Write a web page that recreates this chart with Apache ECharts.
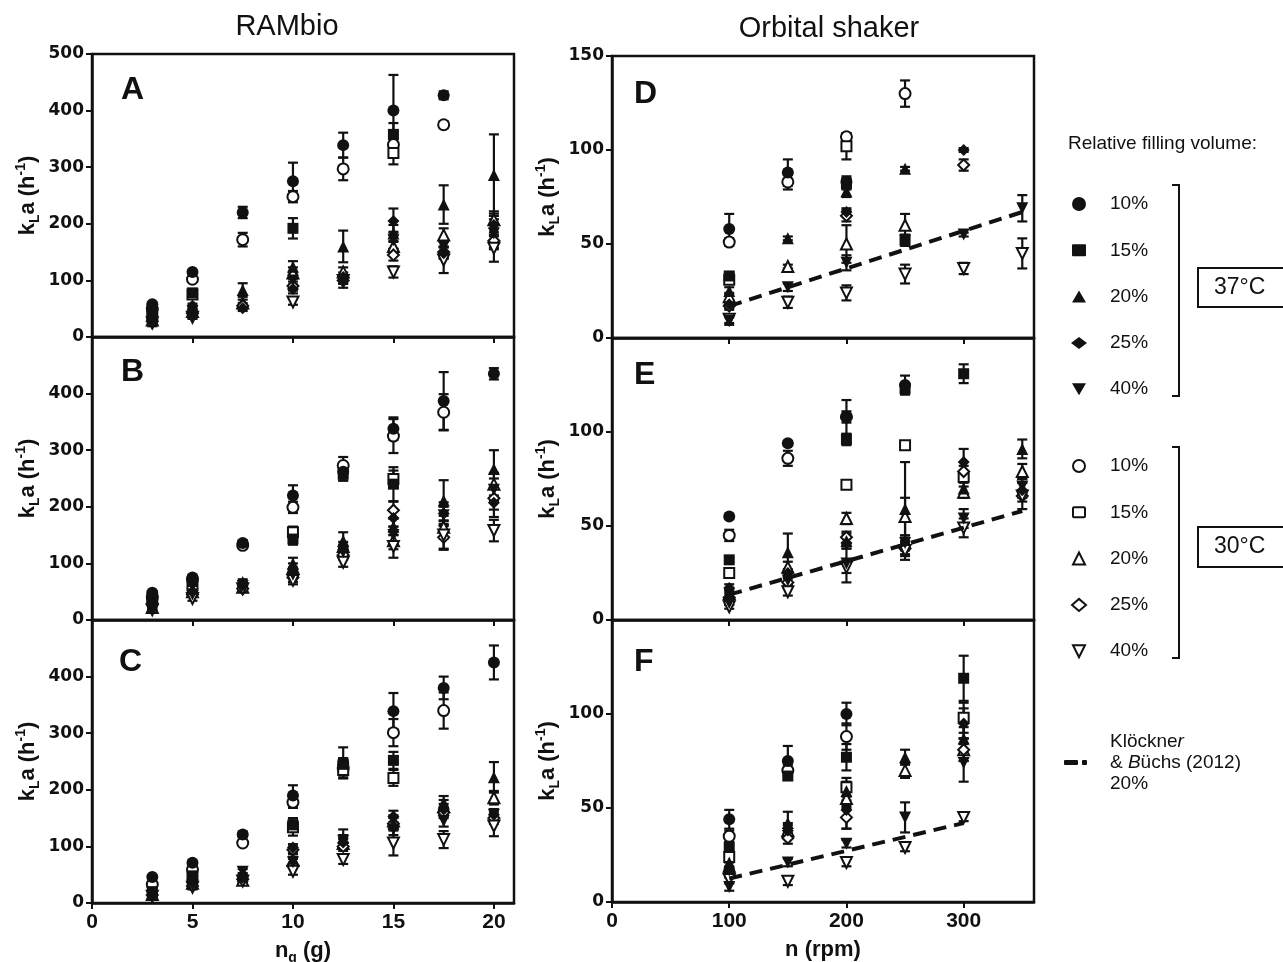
<!DOCTYPE html>
<html>
<head>
<meta charset="utf-8">
<script src="https://cdn.jsdelivr.net/npm/echarts@6/dist/echarts.min.js"></script>
<style>
html, body { margin: 0; background: #fff; }
#chart { width: 1283px; height: 962px; }
</style>
</head>
<body>
<div id="chart"></div>
<script>
// x values
var mass = [3, 5, 7.5, 10, 12.5, 15, 17.5, 20];
var rpm = [100, 150, 200, 250, 300, 350];
var fills = ['10%', '15%', '20%', '25%', '40%'];

// rows: 10%, 15%, 20%, 25%, 40% filling volume; null = no point
// A - RAMbio
var a37 = [
  [58, 115, 220, 275, 339, 400, 427, null],
  [45, 78, null, 192, null, 358, null, null],
  [35, 50, 83, 124, 160, 183, 234, 286],
  [30, 55, 51, 85, 106, 205, 148, 198],
  [22, 38, null, 100, 95, 171, 160, 183]
];
var a37Err = [
  [3, 3, 10, 33, 22, 63, 7, null],
  [3, 5, null, 18, null, 20, null, null],
  [3, 4, 12, 10, 28, 15, 34, 72],
  [3, 4, 5, 8, 8, 22, 10, 20],
  [3, 4, null, 10, 8, 15, 12, 25]
];
var a30 = [
  [50, 102, 172, 248, 297, 340, 375, null],
  [40, 75, null, null, null, 325, null, null],
  [30, 45, 60, 113, 115, 160, 180, 207],
  [28, 42, 55, 90, 100, 145, 150, 170],
  [25, 35, null, 62, 100, 115, 136, 157]
];
var a30Err = [
  [3, 4, 12, 10, 20, 10, 6, null],
  [3, 4, null, null, null, 20, null, null],
  [2, 4, 6, 10, 8, 10, 12, 15],
  [2, 4, 5, 8, 6, 10, 10, 15],
  [2, 3, null, 5, 6, 10, 23, 24]
];

// B
var b37 = [
  [48, 75, 136, 220, 262, 338, 387, 435],
  [42, 68, null, 143, 258, 240, null, null],
  [25, 55, 67, 100, 140, 165, 211, 267],
  [30, 50, 62, 85, 125, 180, 188, 207],
  [20, 45, 60, 80, 120, 150, 185, 230]
];
var b37Err = [
  [3, 4, 5, 18, 15, 20, 51, 10],
  [3, 4, null, 10, 12, 30, null, null],
  [3, 4, 5, 10, 15, 15, 36, 33],
  [3, 4, 5, 8, 8, 15, 20, 25],
  [3, 4, 5, 8, 8, 15, 15, 20]
];
var b30 = [
  [40, 72, 132, 199, 273, 325, 367, null],
  [35, 62, null, 155, null, 249, null, null],
  [22, 50, 58, 92, 130, 140, 164, 240],
  [28, 45, 55, 75, 115, 194, 146, 215],
  [18, 38, 55, 70, 102, 130, 150, 158]
];
var b30Err = [
  [3, 4, 5, 10, 15, 30, 32, null],
  [3, 4, null, 10, null, 15, null, null],
  [3, 4, 5, 8, 8, 15, 20, 20],
  [3, 4, 5, 8, 8, 15, 20, 20],
  [3, 4, 5, 7, 8, 20, 26, 19]
];

// C
var c37 = [
  [46, 71, 121, 190, 248, 339, 380, 425],
  [20, 48, null, 138, 245, 252, null, null],
  [18, 42, 48, 78, 115, 141, 177, 222],
  [15, 38, 45, 98, 107, 153, 165, 156],
  [18, 32, 55, 72, 110, 130, 145, 156]
];
var c37Err = [
  [3, 4, 5, 18, 27, 32, 20, 30],
  [3, 4, null, 12, 10, 15, null, null],
  [3, 4, 5, 8, 15, 10, 12, 27],
  [3, 4, 5, 6, 8, 10, 10, 10],
  [3, 4, 5, 6, 10, 10, 10, 8]
];
var c30 = [
  [33, 59, 106, 178, 238, 301, 340, null],
  [null, 45, null, 134, 235, 221, null, null],
  [15, 35, 40, 75, 105, 145, 170, 186],
  [14, 30, 42, 94, 100, 140, 160, 150],
  [12, 28, 39, 56, 77, 106, 112, 136]
];
var c30Err = [
  [3, 4, 5, 10, 18, 24, 32, null],
  [null, 4, null, 15, 10, 14, null, null],
  [3, 4, 5, 6, 8, 10, 12, 12],
  [3, 4, 5, 6, 8, 10, 10, 10],
  [3, 4, 5, 6, 8, 22, 15, 18]
];

// D - orbital shaker
var d37 = [
  [58, 88, 83, null, null, null],
  [33, null, 82, 52, null, null],
  [25, 53, 78, 90, null, null],
  [18, null, 67, null, 100, null],
  [9, 27, 40, 52, 55, 69]
];
var d37Err = [
  [8, 7, 3, null, null, null],
  [2, null, 3, 2, null, null],
  [2, 1, 3, 1, null, null],
  [2, null, 2, null, 1, null],
  [2, 2, 4, 3, 1, 7]
];
var d30 = [
  [51, 83, 107, 130, null, null],
  [31, null, 102, null, null, null],
  [22, 38, 50, 60, null, null],
  [17, null, 65, null, 92, null],
  [10, 19, 24, 34, 37, 45]
];
var d30Err = [
  [2, 4, 2, 7, null, null],
  [2, null, 7, null, null, null],
  [2, 1, 10, 6, null, null],
  [2, null, 3, null, 3, null],
  [2, 3, 4, 5, 3, 8]
];

// E
var e37 = [
  [55, 94, 108, 125, null, null],
  [32, null, 96, 123, 131, null],
  [14, 36, 42, 59, 70, 91],
  [17, 25, 41, null, 84, 69],
  [9, 21, 30, 41, 54, 71]
];
var e37Err = [
  [1, 1, 9, 5, null, null],
  [1, null, 3, 3, 5, null],
  [2, 10, 4, 25, 5, 5],
  [2, 2, 3, null, 7, 4],
  [1, 2, 10, 4, 5, 4]
];
var e30 = [
  [45, 86, 108, null, null, null],
  [25, null, 72, 93, 76, null],
  [14, 28, 54, 55, 68, 79],
  [12, 20, 44, 38, 79, 66],
  [7, 15, 28, 37, 49, 66]
];
var e30Err = [
  [3, 4, 3, null, null, null],
  [2, null, 2, 2, 3, null],
  [2, 3, 3, 10, 3, 4],
  [2, 2, 3, 3, 3, 3],
  [1, 2, 3, 5, 5, 7]
];

// F
var f37 = [
  [44, 75, 100, null, null, null],
  [29, 67, 77, null, 119, null],
  [21, 42, 59, 77, 87, null],
  [17, 38, 49, null, 95, null],
  [8, 21, 31, 45, 74, null]
];
var f37Err = [
  [5, 8, 6, null, null, null],
  [3, 2, 7, null, 12, null],
  [3, 6, 5, 4, 6, null],
  [2, 3, 10, null, 8, null],
  [2, 2, 2, 8, 10, null]
];
var f30 = [
  [35, 70, 88, null, null, null],
  [24, null, 61, null, 98, null],
  [19, 38, 55, 70, 81, null],
  [15, 34, 45, null, 81, null],
  [12, 11, 21, 29, 45, null]
];
var f30Err = [
  [3, 3, 7, null, null, null],
  [3, null, 5, null, 8, null],
  [3, 4, 5, 4, 6, null],
  [2, 3, 6, null, 6, null],
  [2, 2, 2, 2, 2, null]
];

// Klöckner & Büchs (2012) correlation, 20%
var dLine = [[100, 17], [350, 67]];
var eLine = [[100, 13.5], [350, 58]];
var fLine = [[100, 12.5], [300, 42]];

var ink = '#111';
var symbols = ['circle', 'rect', 'triangle', 'diamond', 'triangle'];
var rotates = [0, 0, 0, 0, 180];

function errorBar(params, api) {
  var x = api.value(0);
  var lo = api.coord([x, api.value(1)]);
  var hi = api.coord([x, api.value(2)]);
  var st = { stroke: ink, lineWidth: 2.2 };
  return {
    type: 'group',
    children: [
      { type: 'line', shape: { x1: lo[0], y1: lo[1], x2: hi[0], y2: hi[1] }, style: st },
      { type: 'line', shape: { x1: lo[0] - 5, y1: lo[1], x2: lo[0] + 5, y2: lo[1] }, style: st },
      { type: 'line', shape: { x1: hi[0] - 5, y1: hi[1], x2: hi[0] + 5, y2: hi[1] }, style: st }
    ]
  };
}

function panelSeries(idx, xs, v37, e37, v30, e30) {
  var out = [];
  var bars = [];
  [[v30, e30, false], [v37, e37, true]].forEach(function (g) {
    g[0].forEach(function (row, k) {
      var pts = [];
      row.forEach(function (v, j) {
        if (v == null) return;
        pts.push([xs[j], v]);
        var e = g[1][k][j];
        if (e) bars.push([xs[j], v - e, v + e]);
      });
      out.push({
        type: 'scatter',
        name: (g[2] ? '37°C ' : '30°C ') + fills[k],
        xAxisIndex: idx, yAxisIndex: idx,
        data: pts,
        symbol: symbols[k],
        symbolRotate: rotates[k],
        symbolSize: g[2] ? (k === 1 ? 11 : 12) : (k === 1 ? 10 : 11),
        itemStyle: g[2]
          ? { color: ink, opacity: 1 }
          : { color: '#fff', borderColor: ink, borderWidth: 2, opacity: 1 },
        z: 3
      });
    });
  });
  out.push({
    type: 'custom', xAxisIndex: idx, yAxisIndex: idx,
    data: bars, renderItem: errorBar, clip: true, silent: true, z: 2
  });
  return out;
}

function fitLine(idx, pts) {
  return {
    type: 'line', xAxisIndex: idx, yAxisIndex: idx, data: pts,
    showSymbol: false, silent: true, z: 4,
    lineStyle: { color: ink, width: 4, type: [13, 8] }
  };
}

var leftTops = [54, 337, 620];
var rightTops = [56, 338, 620];
var grids = [], xAxes = [], yAxes = [];

var ylabRich = {
  b: { fontFamily: 'Liberation Sans', fontWeight: 'bold', fontSize: 22, lineHeight: 28, color: ink },
  s: { fontFamily: 'Liberation Sans', fontWeight: 'bold', fontSize: 14, lineHeight: 14, verticalAlign: 'bottom', color: ink },
  p: { fontFamily: 'Liberation Sans', fontWeight: 'bold', fontSize: 14, lineHeight: 14, verticalAlign: 'top', color: ink }
};

for (var i = 0; i < 6; i++) {
  var left = i < 3;
  var row = i % 3;
  var bottom = row === 2;
  grids.push({
    left: left ? 92 : 612,
    top: left ? leftTops[row] : rightTops[row],
    width: 422,
    height: left ? 283 : 282,
    show: true, borderColor: ink, borderWidth: 2.5,
    containLabel: false, outerBoundsMode: 'none'
  });
  xAxes.push({
    gridIndex: i, type: 'value', min: 0,
    max: left ? 21 : 360, interval: left ? 5 : 100,
    axisLine: { onZero: false, lineStyle: { color: ink, width: 2.5 } },
    axisTick: { length: 6, lineStyle: { color: ink, width: 2 } },
    axisLabel: {
      show: bottom, showMaxLabel: false, margin: 9, color: ink,
      fontFamily: 'Liberation Sans', fontWeight: 'bold', fontSize: 21
    },
    splitLine: { show: false },
    name: bottom ? (left ? '{b|n}{s|g}{b| (g)}' : '{b|n (rpm)}') : '',
    nameLocation: 'middle', nameGap: 34,
    nameTextStyle: { rich: ylabRich }
  });
  yAxes.push({
    gridIndex: i, type: 'value', min: 0,
    max: left ? 500 : 150, interval: left ? 100 : 50,
    axisLine: { lineStyle: { color: ink, width: 2.5 } },
    axisTick: { length: 6, lineStyle: { color: ink, width: 2 } },
    axisLabel: {
      showMaxLabel: row === 0, margin: 8, color: ink,
      fontFamily: 'DejaVu Sans', fontWeight: 'bold', fontSize: 17
    },
    splitLine: { show: false },
    name: '{b|k}{s|L}{b|a (h}{p|-1}{b|)}',
    nameLocation: 'middle', nameRotate: 90, nameGap: 50,
    nameTextStyle: { rich: ylabRich }
  });
}

var series = [].concat(
  panelSeries(0, mass, a37, a37Err, a30, a30Err),
  panelSeries(1, mass, b37, b37Err, b30, b30Err),
  panelSeries(2, mass, c37, c37Err, c30, c30Err),
  panelSeries(3, rpm, d37, d37Err, d30, d30Err),
  panelSeries(4, rpm, e37, e37Err, e30, e30Err),
  panelSeries(5, rpm, f37, f37Err, f30, f30Err),
  [fitLine(3, dLine), fitLine(4, eLine), fitLine(5, fLine)]
);

// graphic: titles, panel letters, legend key
function txt(x, y, text, size, weight, align) {
  return {
    type: 'text', x: x, y: y, silent: true,
    style: {
      text: text, fill: ink, fontFamily: 'Liberation Sans', fontSize: size,
      fontWeight: weight || 'normal', align: align || 'left', verticalAlign: 'middle'
    }
  };
}

function keyMark(kind, x, y, open) {
  var style = open ? { fill: '#fff', stroke: ink, lineWidth: 2 } : { fill: ink };
  var r = open ? 6 : 7;
  if (kind === 0) return { type: 'circle', shape: { cx: x, cy: y, r: r }, style: style };
  if (kind === 1) return { type: 'rect', shape: { x: x - r, y: y - r + 1, width: 2 * r, height: 2 * r - 2, r: 1 }, style: style };
  if (kind === 2) return { type: 'polygon', shape: { points: [[x - r, y + 6], [x + r, y + 6], [x, y - 6]] }, style: style };
  if (kind === 3) return { type: 'polygon', shape: { points: [[x - r - 1, y], [x, y - 6], [x + r + 1, y], [x, y + 6]] }, style: style };
  return { type: 'polygon', shape: { points: [[x - r, y - 6], [x + r, y - 6], [x, y + 6]] }, style: style };
}

var graphics = [
  txt(287, 27, 'RAMbio', 29, 'normal', 'center'),
  txt(829, 29, 'Orbital shaker', 29, 'normal', 'center'),
  txt(121, 90, 'A', 32, 'bold'), txt(121, 372, 'B', 32, 'bold'), txt(119, 662, 'C', 32, 'bold'),
  txt(634, 94, 'D', 32, 'bold'), txt(634, 375, 'E', 32, 'bold'), txt(634, 662, 'F', 32, 'bold'),
  txt(1068, 144, 'Relative filling volume:', 19)
];

for (var k = 0; k < 5; k++) {
  var y37 = 204 + 46.3 * k;
  var y30 = 466 + 46.3 * k;
  graphics.push(keyMark(k, 1079, y37, false), txt(1110, y37, fills[k], 19));
  graphics.push(keyMark(k, 1079, y30, true), txt(1110, y30, fills[k], 19));
}

graphics.push(
  { type: 'polyline', shape: { points: [[1172, 185], [1179, 185], [1179, 396], [1172, 396]] }, style: { stroke: ink, lineWidth: 2, fill: null } },
  { type: 'polyline', shape: { points: [[1172, 447], [1179, 447], [1179, 658], [1172, 658]] }, style: { stroke: ink, lineWidth: 2, fill: null } },
  { type: 'rect', shape: { x: 1198, y: 268, width: 100, height: 39 }, style: { stroke: ink, lineWidth: 2, fill: null } },
  { type: 'rect', shape: { x: 1198, y: 527, width: 100, height: 40 }, style: { stroke: ink, lineWidth: 2, fill: null } },
  txt(1214, 288, '37°C', 23),
  txt(1214, 547, '30°C', 23),
  { type: 'rect', shape: { x: 1064, y: 760, width: 14, height: 5, r: 1 }, style: { fill: ink } },
  { type: 'rect', shape: { x: 1082, y: 760, width: 5, height: 5, r: 1 }, style: { fill: ink } },
  {
    type: 'text', x: 1110, y: 763, silent: true,
    style: {
      text: '{n|Klöckne}{i|r}\n{n|& }{i|B}{n|üchs (2012)}\n{n|20%}',
      verticalAlign: 'middle', align: 'left',
      rich: {
        n: { fontFamily: 'Liberation Sans', fontSize: 19, lineHeight: 21, fill: ink },
        i: { fontFamily: 'Liberation Sans', fontSize: 19, lineHeight: 21, fontStyle: 'italic', fill: ink }
      }
    }
  }
);

var myChart = echarts.init(document.getElementById('chart'));
myChart.setOption({
  backgroundColor: '#ffffff',
  animation: false,
  grid: grids,
  xAxis: xAxes,
  yAxis: yAxes,
  series: series,
  graphic: graphics
});
</script>
</body>
</html>
